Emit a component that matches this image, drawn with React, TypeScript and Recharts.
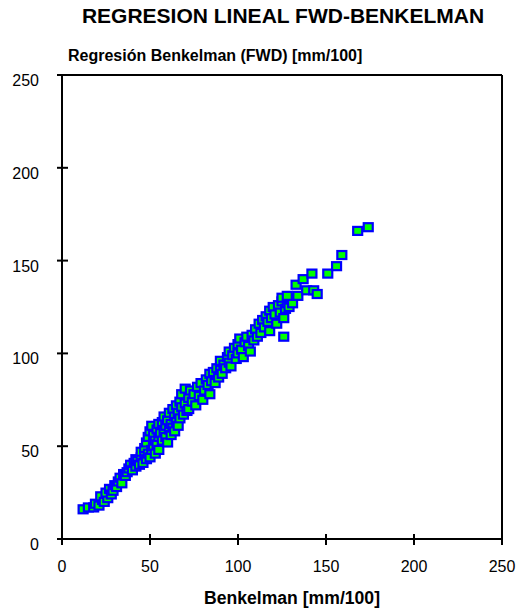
import { ScatterChart, Scatter, XAxis, YAxis, ReferenceLine } from 'recharts'

const benkelman = [
  12, 15, 18, 19, 21, 23, 22, 24, 26, 25, 27, 28, 29, 30, 31, 32, 33, 34, 35, 36,
  37, 38, 39, 40, 41, 42, 42, 43, 44, 45, 45, 46, 47, 47, 48, 48, 49, 49, 50, 50, 51, 51, 52, 52, 53, 53, 54, 54, 55, 55, 55, 56,
  57, 57, 58, 58, 59, 59, 60, 60, 61, 61, 62, 62, 63, 63, 64, 64, 65, 65, 66, 66, 67, 67, 68, 68, 69, 70, 70, 71, 72, 72, 73, 74, 75, 76, 77, 78, 79, 80,
  81, 82, 83, 84, 84, 85, 86, 87, 88, 89, 90, 90, 91, 92, 93, 94, 95, 95, 96, 97, 98, 99, 100, 100, 101, 102, 103, 104, 105, 106, 107, 108,
  109, 110, 111, 112, 113, 114, 115, 116, 117, 118, 118, 119, 120, 121, 122, 123, 124, 125, 126, 126, 127, 128, 129, 130, 131,
  125, 128, 133, 134, 137, 139, 142, 143, 145, 151, 156, 159, 168, 174,
]

const fwd = [
  16, 17, 17, 19, 18, 21, 23, 20, 22, 25, 27, 24, 26, 29, 28, 31, 33, 30, 35, 34,
  36, 38, 40, 37, 41, 39, 43, 42, 40, 44, 47, 41, 45, 49, 43, 52, 46, 55, 44, 58, 48, 61, 50, 56, 53, 46, 59, 51, 62, 55, 48, 57,
  53, 63, 58, 66, 55, 61, 64, 52, 59, 68, 62, 56, 70, 60, 66, 58, 72, 63, 68, 61, 74, 65, 71, 78, 67, 73, 81, 69, 76, 70, 80, 74, 78, 72, 82, 77, 84, 75,
  80, 86, 83, 89, 78, 85, 90, 84, 92, 87, 91, 96, 89, 94, 92, 98, 95, 101, 93, 99, 103, 97, 105, 100, 108, 102, 98, 106, 109, 104, 101, 110,
  107, 113, 109, 116, 111, 118, 114, 120, 117, 112, 123, 119, 125, 121, 116, 126, 122, 128, 109, 119, 124, 127, 125, 129, 127,
  130, 131, 137, 131, 140, 134, 143, 134, 132, 143, 147, 153, 166, 168,
]

const axisTicks = [0, 50, 100, 150, 200, 250]

const points = benkelman.map((b, i) => ({ b, f: fwd[i] }))

const font = '"Liberation Sans", Arial, sans-serif'

function XTick(props: any) {
  const { x, y, payload } = props
  return (
    <g>
      <line x1={x} x2={x} y1={y - 5} y2={y + 6} stroke="#000" strokeWidth={2} />
      <text x={x} y={y + 33} textAnchor="middle" fontSize={16} fontFamily={font} fill="#000">
        {payload.value}
      </text>
    </g>
  )
}

function YTick(props: any) {
  const { x, y, payload } = props
  return (
    <g>
      <line x1={x - 5} x2={x + 6} y1={y} y2={y} stroke="#000" strokeWidth={2} />
      <text x={x - 23} y={y + 11} textAnchor="end" fontSize={16} fontFamily={font} fill="#000">
        {payload.value}
      </text>
    </g>
  )
}

// green square with thick blue edge, like the excel marker
function Marker(props: any) {
  const { cx, cy } = props
  return <rect x={cx - 4.5} y={cy - 4} width={9} height={8} fill="#00ff00" stroke="#0000ff" strokeWidth={2.2} />
}

export default function App() {
  return (
    <div style={{ position: 'absolute', left: 0, top: 0, width: 517, height: 608, background: '#fff', fontFamily: font }}>
      <div style={{ position: 'absolute', left: 0, width: 566, top: 4, textAlign: 'center', fontSize: 21, fontWeight: 'bold' }}>
        REGRESION LINEAL FWD-BENKELMAN
      </div>
      <div style={{ position: 'absolute', left: 68, top: 47, fontSize: 16, fontWeight: 'bold' }}>
        Regresión Benkelman (FWD) [mm/100]
      </div>
      <ScatterChart width={517} height={608} margin={{ top: 75, right: 15, bottom: 39, left: 0 }}>
        <XAxis
          type="number"
          dataKey="b"
          domain={[0, 250]}
          ticks={axisTicks}
          tickSize={0}
          tickMargin={0}
          tickLine={false}
          tick={<XTick />}
          height={30}
          axisLine={{ stroke: '#000', strokeWidth: 2 }}
          interval={0}
        />
        <YAxis
          type="number"
          dataKey="f"
          domain={[0, 250]}
          ticks={axisTicks}
          tickSize={0}
          tickMargin={0}
          tickLine={false}
          tick={<YTick />}
          width={62}
          axisLine={{ stroke: '#000', strokeWidth: 2 }}
          interval={0}
        />
        <ReferenceLine y={250} stroke="#000" strokeWidth={2} />
        <ReferenceLine x={250} stroke="#000" strokeWidth={2} />
        <Scatter data={points} shape={<Marker />} isAnimationActive={false} />
      </ScatterChart>
      <div style={{ position: 'absolute', left: 0, width: 584, top: 588, textAlign: 'center', fontSize: 17.6, fontWeight: 'bold' }}>
        Benkelman [mm/100]
      </div>
    </div>
  )
}
